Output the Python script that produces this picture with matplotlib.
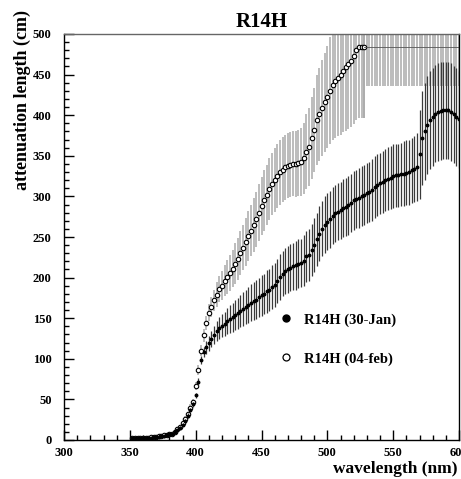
import matplotlib
matplotlib.use("Agg")
import matplotlib.pyplot as plt
from matplotlib.lines import Line2D
from matplotlib.ticker import MultipleLocator
import numpy as np

plt.rcParams["font.family"] = ["Liberation Serif", "DejaVu Serif"]
plt.rcParams["font.weight"] = "bold"

# wavelength grid (nm), one sample every 2 nm
wavelength = np.arange(352, 601, 2)

# R14H (30-Jan) attenuation length (cm) and errors
att_jan = [
    2, 2, 2, 3, 3, 3, 3, 3, 4, 4, 4, 5, 5, 6, 7, 8, 10, 12, 15, 19, 24, 30, 37, 44,
    55, 72, 98, 108, 114, 119, 124, 129, 134, 138, 141, 143, 146, 149, 151, 154,
    156, 159, 161, 164, 166, 169, 171, 173, 176,
    178, 180, 183, 185, 188, 191, 196, 201, 205, 208, 210, 212, 214, 215, 217, 218,
    221, 226, 228, 234, 240, 247, 254, 260, 265,
    269, 272, 276, 279, 281, 283, 286, 287, 289, 292, 295, 297, 298, 300, 302, 304,
    305, 308, 312, 314, 316, 318, 320, 322, 323,
    325, 326, 326, 327, 328, 329, 330, 332, 334, 336, 352, 372, 380, 388, 394, 398,
    402, 404, 405, 406, 406, 406, 404, 401, 398, 395,
]
err_jan = [
    1, 1, 1, 1, 1, 1, 1, 1, 1, 1, 1, 1, 1, 1, 1, 1, 1, 2, 2, 2, 2, 3, 3, 3,
    3, 4, 5, 6, 8, 9, 10, 11, 12, 13, 14, 15, 16, 17, 18, 19, 19, 20, 21, 21, 22,
    23, 23, 24, 24,
    25, 25, 26, 26, 27, 27, 27, 28, 28, 28, 29, 29, 29, 30, 30, 30, 31, 31, 32, 32,
    33, 33, 34, 34, 35,
    35, 35, 35, 35, 35, 35, 36, 36, 36, 36, 36, 36, 37, 37, 37, 37, 37, 38, 38, 38,
    38, 38, 38, 39, 39,
    39, 39, 39, 39, 40, 40, 40, 40, 41, 42, 55, 58, 60, 60, 60, 60, 60, 60, 60, 60,
    60, 60, 60, 60, 60, 60,
]

# R14H (04-feb) attenuation length (cm) and errors
att_feb = [
    2, 2, 2, 3, 3, 3, 3, 4, 4, 4, 5, 5, 6, 6, 7, 8, 10, 13, 16, 21, 26, 32, 40, 47,
    66, 86, 110, 129, 144, 157, 164, 172, 179, 186, 190, 196, 201, 206, 211, 217,
    223, 230, 237, 244, 251, 258, 265, 272, 280,
    288, 295, 302, 309, 315, 320, 325, 330, 333, 336, 338, 339, 340, 340, 341, 342,
    347, 355, 361, 372, 382, 394, 401, 409, 416,
    422, 430, 437, 442, 446, 450, 455, 459, 463, 467, 473, 480, 484, 484, 484,
    484, 484, 484, 484, 484, 484, 484, 484, 484, 484,
    484, 484, 484, 484, 484, 484, 484, 484, 484, 484, 484, 484, 484, 484, 484, 484,
    484, 484, 484, 484, 484, 484, 484, 484, 484, 484,
]
err_feb = [
    1, 1, 1, 1, 1, 1, 1, 1, 1, 1, 1, 1, 1, 1, 1, 1, 2, 2, 2, 2, 3, 3, 4, 4,
    5, 6, 7, 8, 9, 10, 12, 13, 15, 16, 18, 19, 21, 22, 23, 25, 26, 27, 28, 30,
    31, 32, 33, 34, 35,
    36, 37, 37, 38, 38, 39, 39, 40, 40, 40, 40, 40, 40, 41, 41, 42, 44, 46, 48, 50,
    52, 55, 57, 59, 61,
    63, 66, 68, 70, 72, 74, 76, 78, 80, 82, 84, 86, 87, 88, 88,
    48, 48, 48, 48, 48, 48, 48, 48, 48, 48,
    48, 48, 48, 48, 48, 48, 48, 48, 48, 48, 48, 48, 48, 48, 48, 48,
    48, 48, 48, 48, 48, 48, 48, 48, 48, 48,
]
feb_last_marker = 528  # open circles stop here, the rest is a flat line

att_jan = np.array(att_jan)
err_jan = np.array(err_jan)
att_feb = np.array(att_feb)
err_feb = np.array(err_feb)

fig = plt.figure(figsize=(4.61, 4.79), dpi=100)
ax = fig.add_axes([64 / 461, 39 / 479, 395 / 461, 406 / 479])

# 04-feb: grey error band, open circles
m = wavelength <= feb_last_marker
ax.errorbar(wavelength[m], att_feb[m], yerr=err_feb[m], fmt="o", ms=3.2,
            mfc="white", mec="black", mew=0.8, ecolor="#a9a9a9", elinewidth=1.1,
            capsize=0, zorder=2)
t = wavelength >= feb_last_marker
ax.errorbar(wavelength[t], att_feb[t], yerr=err_feb[t], fmt="-", color="#555555",
            lw=0.6, ecolor="#a9a9a9", elinewidth=1.1, capsize=0, zorder=2)

# 30-Jan: dark error bars, small filled dots
ax.errorbar(wavelength, att_jan, yerr=err_jan, fmt="o", ms=1.8, color="black",
            ecolor="#3a3a3a", elinewidth=0.9, capsize=0, zorder=3)

ax.set_xlim(300, 600)
ax.set_ylim(0, 500)
ax.xaxis.set_major_locator(MultipleLocator(50))
ax.xaxis.set_minor_locator(MultipleLocator(10))
ax.yaxis.set_major_locator(MultipleLocator(50))
ax.yaxis.set_minor_locator(MultipleLocator(10))
ax.tick_params(which="both", direction="in", top=False, right=False,
               labelsize=9, width=1)
ax.tick_params(which="major", length=7)
ax.tick_params(which="minor", length=3.5)
ax.tick_params(axis="x", pad=5)
ax.tick_params(axis="y", pad=9)
for lab in ax.get_xticklabels() + ax.get_yticklabels():
    lab.set_fontweight("bold")
ax.spines["top"].set_color("#666666")
for s in ax.spines.values():
    s.set_linewidth(1)

ax.set_title("R14H", fontsize=15, fontweight="bold", pad=5)
fig.text(457 / 461, 1 - 469 / 479, "wavelength (nm)", ha="right", va="center",
         fontsize=12.5, fontweight="bold")
fig.text(22 / 461, 1 - 10 / 479, "attenuation length (cm)", rotation=90,
         ha="center", va="top", fontsize=13, fontweight="bold")

handles = [
    Line2D([], [], ls="none", marker="o", ms=5, color="black"),
    Line2D([], [], ls="none", marker="o", ms=5, mfc="white", mec="black", mew=0.9),
]
ax.legend(handles, ["R14H (30-Jan)", "R14H (04-feb)"], loc="upper left",
          bbox_to_anchor=(0.515, 0.345), frameon=False,
          handlelength=0.8, handletextpad=0.8, labelspacing=1.75,
          prop={"weight": "bold", "size": 10.5})

fig.savefig("out.png", dpi=100, facecolor="white")
